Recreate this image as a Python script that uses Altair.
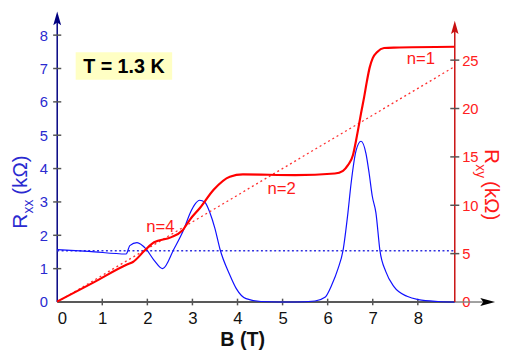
import altair as alt
import pandas as pd

FONT = "Liberation Sans"

# ---- data ----
B_xx = [0.0, 0.70, 1.53, 1.61, 1.77, 1.97, 2.15, 2.34, 2.59, 2.81, 2.95, 3.05, 3.16, 3.27,
        3.39, 3.50, 3.61, 3.83, 3.97, 4.19, 4.52, 5.28, 5.72, 5.94, 6.09, 6.23, 6.34, 6.45,
        6.52, 6.63, 6.74, 6.85, 6.92, 6.99, 7.07, 7.16, 7.29, 7.47, 7.76, 8.01, 8.45, 8.82]
R_xx = [1.57, 1.52, 1.44, 1.69, 1.78, 1.59, 1.25, 1.00, 1.59, 2.18, 2.67, 2.92, 3.05, 3.00,
        2.67, 2.20, 1.59, 0.81, 0.41, 0.10, 0.015, 0.0, 0.03, 0.14, 0.51, 1.00, 1.54, 2.68,
        3.56, 4.54, 4.82, 4.45, 3.86, 3.17, 2.68, 1.54, 0.91, 0.46, 0.17, 0.07, 0.015, 0.0]

B_xy = [0.0, 0.8, 1.56, 1.68, 1.94, 2.15, 2.52, 2.77, 2.95, 3.17, 3.47, 3.83, 4.12, 5.28,
        6.16, 6.34, 6.45, 6.56, 6.63, 6.69, 6.74, 6.81, 6.87, 6.93, 7.00, 7.10, 7.25, 7.47, 8.82]
R_xy = [0.05, 2.0, 3.9, 4.14, 5.32, 6.18, 6.68, 7.36, 8.55, 9.74, 11.6, 12.95, 13.19, 13.12,
        13.28, 13.56, 14.14, 15.16, 16.7, 18.2, 19.5, 21.2, 22.8, 24.2, 25.2, 25.84, 26.25, 26.3, 26.38]

classical_B = [0.0, 8.82]
classical_R = [0.0, 24.34]
ref_B = [0.0, 8.82]
ref_R = [1.54, 1.54]

x_ticks = [0, 1, 2, 3, 4, 5, 6, 7, 8]
left_ticks = [0, 1, 2, 3, 4, 5, 6, 7, 8]
right_ticks = [0, 5, 10, 15, 20, 25]

n_labels = ["n=4", "n=2", "n=1"]
n_B = [2.29, 4.98, 8.07]
n_R = [7.78, 11.70, 25.16]

temp_label = "T = 1.3 K"

B_MAX = 8.82
L_MAX = 8.437
R_MAX = 29.09
L_ARROW = 8.50
R_ARROW = 28.38
X_ARROW = 9.55

# ---- scales / axes ----
xscale = alt.Scale(domain=[0, B_MAX], nice=False, zero=False)
ylscale = alt.Scale(domain=[0, L_MAX], nice=False)
yrscale = alt.Scale(domain=[0, R_MAX], nice=False)

xaxis = alt.Axis(values=x_ticks, ticks=False, domain=False, grid=False, labelFontSize=17,
                 labelColor="#111111", labelPadding=9, labelFont=FONT, title="B (T)",
                 titleFontSize=20, titleFont=FONT, titleFontWeight="bold", titleX=188,
                 titleY=44, titleBaseline="alphabetic", titleColor="#111111")
ylaxis = alt.Axis(orient="left", values=left_ticks, ticks=False, domain=False, grid=False,
                  labelFontSize=15, labelColor="#2a2ad0", labelPadding=10, labelFont=FONT,
                  title=None)
yraxis = alt.Axis(orient="right", values=right_ticks, ticks=False, domain=False, grid=False,
                  labelFontSize=15, labelColor="#ff2020", labelPadding=7, labelFont=FONT,
                  title=None)


def X(f):
    return alt.X(f"{f}:Q", scale=xscale, axis=xaxis)


def YL(f):
    return alt.Y(f"{f}:Q", scale=ylscale, axis=ylaxis)


def YR(f):
    return alt.Y(f"{f}:Q", scale=yrscale, axis=yraxis)


df_xx = pd.DataFrame({"B": B_xx, "R": R_xx})
df_xy = pd.DataFrame({"B": B_xy, "R": R_xy})
df_cl = pd.DataFrame({"B": classical_B, "R": classical_R})
df_ref = pd.DataFrame({"B": ref_B, "R": ref_R})

# ---- left group (Rxx scale) ----
left_axis_line = alt.Chart(pd.DataFrame({"B": [0.0], "v": [0.0], "v2": [L_ARROW]})).mark_rule(
    color="#000080", strokeWidth=1.5).encode(x=X("B"), y=YL("v"), y2="v2")
x_axis_line = alt.Chart(pd.DataFrame({"B": [0.0], "B2": [B_MAX], "v": [0.0]})).mark_rule(
    color="#222222", strokeWidth=1.5).encode(x=X("B"), x2="B2", y=YL("v"))
x_axis_ext = alt.Chart(pd.DataFrame({"B": [B_MAX], "B2": [X_ARROW - 0.1], "v": [0.0]})).mark_rule(
    color="#808080", strokeWidth=1.5).encode(x=X("B"), x2="B2", y=YL("v"))
x_tick_marks = alt.Chart(pd.DataFrame({"B": x_ticks[1:], "v": [-0.1] * 8, "v2": [0.1] * 8})).mark_rule(
    color="#555555", strokeWidth=1.5).encode(x=X("B"), y=YL("v"), y2="v2")
left_tick_marks = alt.Chart(pd.DataFrame({"B": [-0.09] * 8, "B2": [0.09] * 8, "v": left_ticks[1:]})).mark_rule(
    color="#555555", strokeWidth=1.5).encode(x=X("B"), x2="B2", y=YL("v"))

tbox = alt.Chart(pd.DataFrame({"B": [0.41], "B2": [2.55], "v": [6.66], "v2": [7.49]})).mark_rect(
    color="#ffffc4").encode(x=X("B"), x2="B2", y=YL("v"), y2="v2")
ttext = alt.Chart(pd.DataFrame({"B": [1.48], "v": [7.05], "t": [temp_label]})).mark_text(
    font=FONT, fontSize=20, fontWeight="bold", color="#000000", baseline="middle",
    align="center").encode(x=X("B"), y=YL("v"), text="t:N")

ref_line = alt.Chart(df_ref).mark_line(color="#3030e0", strokeWidth=1.5, strokeDash=[2, 2.5]).encode(
    x=X("B"), y=YL("R"))
rxx_line = alt.Chart(df_xx).mark_line(color="#1010ff", strokeWidth=1.2, interpolate="monotone").encode(
    x=X("B"), y=YL("R"))

left_arrow = alt.Chart(pd.DataFrame({"B": [0.0], "v": [L_ARROW]})).mark_point(
    shape="M0,-1L0.57,1L0,0.6L-0.57,1Z", filled=True, size=196, color="#000080", opacity=1,
    strokeWidth=0).encode(x=X("B"), y=YL("v"))
x_arrow = alt.Chart(pd.DataFrame({"B": [X_ARROW], "v": [0.0]})).mark_point(
    shape="M1,0L-1,-0.55L-0.6,0L-1,0.55Z", filled=True, size=225, color="#000000", opacity=1,
    strokeWidth=0).encode(x=X("B"), y=YL("v"))

lt_R = alt.Chart(pd.DataFrame({"t": ["R"]})).mark_text(
    font=FONT, fontSize=21, color="#2a2ad0", angle=270, align="center", baseline="middle").encode(
    x=alt.value(-37), y=alt.value(204), text="t:N")
lt_sub = alt.Chart(pd.DataFrame({"t": ["xx"]})).mark_text(
    font=FONT, fontSize=14, color="#2a2ad0", angle=270, align="center", baseline="middle").encode(
    x=alt.value(-29), y=alt.value(189), text="t:N")
lt_unit = alt.Chart(pd.DataFrame({"t": ["(kΩ)"]})).mark_text(
    font=FONT, fontSize=21, color="#2a2ad0", angle=270, align="center", baseline="middle").encode(
    x=alt.value(-37), y=alt.value(157), text="t:N")

left_group = alt.layer(left_axis_line, x_axis_line, x_axis_ext, x_tick_marks, left_tick_marks,
                       tbox, ttext, ref_line, rxx_line, left_arrow, x_arrow, lt_R, lt_sub, lt_unit)

# ---- right group (Rxy scale) ----
right_axis_line = alt.Chart(pd.DataFrame({"B": [B_MAX], "v": [0.0], "v2": [R_ARROW]})).mark_rule(
    color="#c81010", strokeWidth=1.5).encode(x=X("B"), y=YR("v"), y2="v2")
right_tick_marks = alt.Chart(pd.DataFrame({"B": [B_MAX - 0.1] * 5, "B2": [B_MAX + 0.1] * 5,
                                           "v": right_ticks[1:]})).mark_rule(
    color="#555555", strokeWidth=1.5).encode(x=X("B"), x2="B2", y=YR("v"))
right_arrow = alt.Chart(pd.DataFrame({"B": [B_MAX], "v": [R_ARROW]})).mark_point(
    shape="M0,-1L0.57,1L0,0.6L-0.57,1Z", filled=True, size=180, color="#c81010", opacity=1,
    strokeWidth=0).encode(x=X("B"), y=YR("v"))
cl_line = alt.Chart(df_cl).mark_line(color="#ff3030", strokeWidth=1.3, strokeDash=[2, 3]).encode(
    x=X("B"), y=YR("R"))
rxy_line = alt.Chart(df_xy).mark_line(color="#ff0000", strokeWidth=2.2, interpolate="monotone").encode(
    x=X("B"), y=YR("R"))
n_text = alt.Chart(pd.DataFrame({"B": n_B, "R": n_R, "t": n_labels})).mark_text(
    font=FONT, fontSize=17, color="#ff1a1a", align="center", baseline="middle").encode(
    x=X("B"), y=YR("R"), text="t:N")

rt_R = alt.Chart(pd.DataFrame({"t": ["R"]})).mark_text(
    font=FONT, fontSize=21, color="#ff1a1a", angle=90, align="center", baseline="middle").encode(
    x=alt.value(441), y=alt.value(138), text="t:N")
rt_sub = alt.Chart(pd.DataFrame({"t": ["xy"]})).mark_text(
    font=FONT, fontSize=14, color="#ff1a1a", angle=90, align="center", baseline="middle").encode(
    x=alt.value(430), y=alt.value(153), text="t:N")
rt_unit = alt.Chart(pd.DataFrame({"t": ["(kΩ)"]})).mark_text(
    font=FONT, fontSize=21, color="#ff1a1a", angle=90, align="center", baseline="middle").encode(
    x=alt.value(441), y=alt.value(183), text="t:N")

right_group = alt.layer(right_axis_line, right_tick_marks, right_arrow, cl_line, rxy_line, n_text,
                        rt_R, rt_sub, rt_unit)

chart = alt.layer(left_group, right_group).resolve_scale(y="independent").properties(
    width=404, height=286,
    autosize=alt.AutoSizeParams(type="none"),
    padding={"left": 50, "top": 10, "right": 49, "bottom": 46},
    background="white",
).configure_view(stroke=None)

chart.save("out.html", embed_options={"renderer": "svg", "actions": False})
